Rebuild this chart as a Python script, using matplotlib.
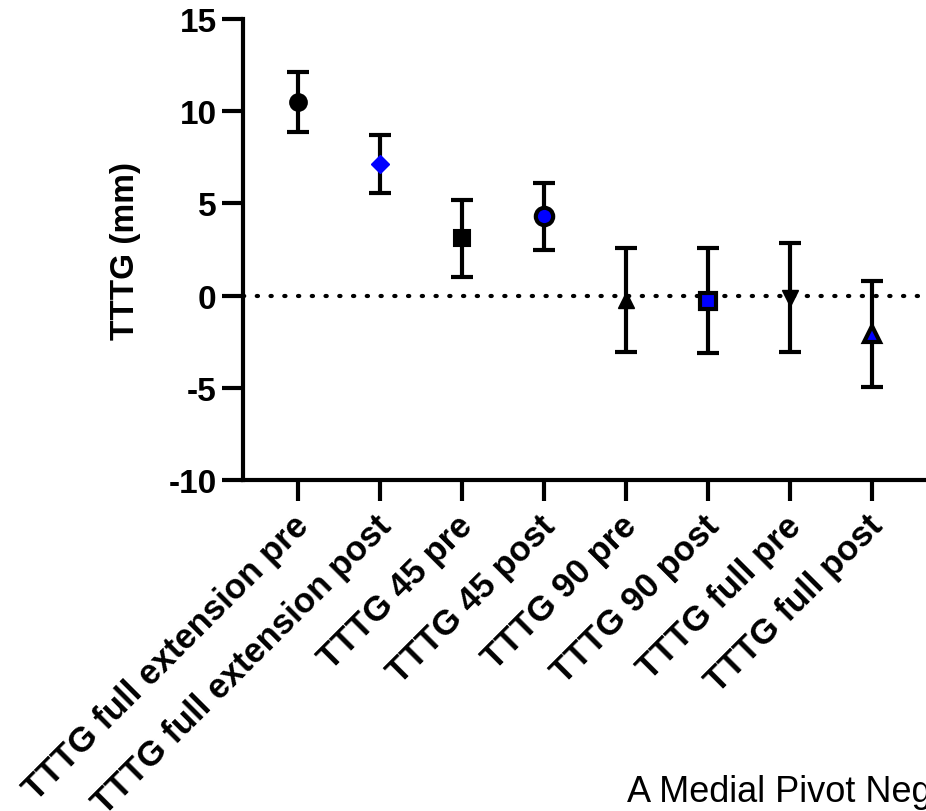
import numpy as np
import matplotlib.pyplot as plt
import matplotlib.transforms as mtransforms

# Data (mean +/- SD, mm)
groups = ['TTTG full extension pre', 'TTTG full extension post',
          'TTTG 45 pre', 'TTTG 45 post',
          'TTTG 90 pre', 'TTTG 90 post',
          'TTTG full pre', 'TTTG full post']
means = [10.5, 7.15, 3.1, 4.3, -0.23, -0.27, -0.12, -2.08]
sds = [1.63, 1.57, 2.1, 1.8, 2.83, 2.86, 2.95, 2.86]
y_ticks = [-10, -5, 0, 5, 10, 15]
footer = 'A Medial Pivot Negative Subjects'

# marker styles per group: (marker, face, edge, size, edge width)
styles = [('o', 'black', 'black', 12, 1.5),
          ('D', 'blue', 'blue', 9, 1.0),
          ('s', 'black', 'black', 12, 1.5),
          ('o', 'blue', 'black', 12.5, 3),
          ('^', 'black', 'black', 12, 1.0),
          ('s', 'blue', 'black', 12, 3),
          ('v', 'black', 'black', 12, 1.0),
          ('^', 'blue', 'black', 12, 3)]

plt.rcParams['font.family'] = ['Liberation Sans', 'DejaVu Sans']

fig = plt.figure(figsize=(9.26, 8.12), dpi=100)
ax = fig.add_axes([243 / 926, 331 / 812, 711 / 926, 461 / 812])

x = np.arange(len(groups))
ax.axhline(0, color='black', lw=3, linestyle=(0, (0.3, 3.0)),
           dash_capstyle='round', zorder=1)

for i in range(len(groups)):
    m, fc, ec, ms, mew = styles[i]
    ax.errorbar(x[i], means[i], yerr=sds[i], fmt='none', ecolor='black',
                elinewidth=3, capsize=8, capthick=3, zorder=2)
    ax.plot(x[i], means[i], marker=m, markersize=ms, markerfacecolor=fc,
            markeredgecolor=ec, markeredgewidth=mew, linestyle='none', zorder=3)

ax.set_xlim(-0.67, 8.0)
ax.set_ylim(-10, 15)
ax.set_yticks(y_ticks)
ax.set_yticklabels([str(t) for t in y_ticks], fontsize=24, fontweight='bold')
ax.set_xticks(x)
ax.set_xticklabels(groups, fontsize=25, fontweight='bold', rotation=45,
                   ha='right', va='center', rotation_mode='anchor')
ax.tick_params(axis='both', width=3, length=15, pad=4, color='black')
ax.tick_params(axis='x', pad=14)
ax.set_ylabel('TTTG (mm)', fontsize=24, fontweight='bold', labelpad=20)

# nudge the slanted labels a little to the right
shift = mtransforms.ScaledTranslation(6 / 100, 0, fig.dpi_scale_trans)
for lab in ax.get_xticklabels():
    lab.set_transform(lab.get_transform() + shift)

for side in ['top', 'right']:
    ax.spines[side].set_visible(False)
for side in ['left', 'bottom']:
    ax.spines[side].set_linewidth(3)

fig.text(627 / 926, 10 / 812, footer, fontsize=26, va='baseline', ha='left')

fig.savefig('out.png', dpi=100)
